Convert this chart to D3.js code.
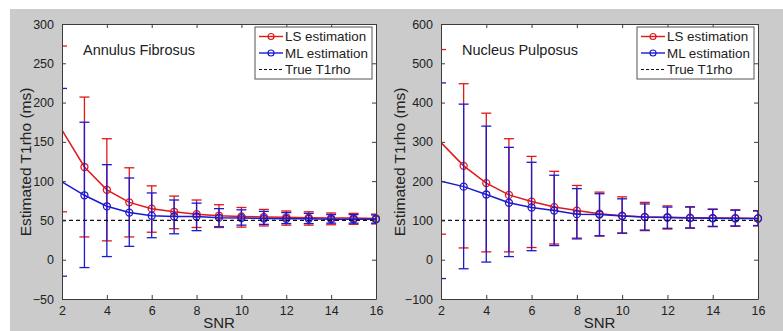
<!DOCTYPE html>
<html>
<head>
<meta charset="utf-8">
<script src="https://cdn.jsdelivr.net/npm/d3@7"></script>
<style>
  body { margin: 0; background: #fff; }
  text { font-family: "Liberation Sans", Arial, sans-serif; fill: #222; }
</style>
</head>
<body>
<div id="mainDiv"></div>
<script>
// SNR values on the x axis
const snr = [2, 3, 4, 5, 6, 7, 8, 9, 10, 11, 12, 13, 14, 15, 16];

// Annulus Fibrosus (true T1rho = 50 ms)
const afTrue = 50;
const afLsMean = [165, 118, 89, 73, 65, 61, 58, 56, 55, 54.5, 54, 53.5, 53, 53, 52.5];
const afLsLow = [61, 29, 24, 29, 35, 39.5, 41, 41, 41.5, 43, 44, 44, 44.5, 45, 45.5];
const afLsHigh = [272, 207, 154, 117, 94, 81, 76, 70, 66.5, 64, 62, 61, 59.5, 59, 58];
const afMlMean = [99, 82, 68, 60, 56, 55, 55, 53.5, 53, 52.5, 52, 52, 51.5, 51.5, 51.5];
const afMlLow = [-21, -10, 4, 17, 28, 33, 37, 42, 44, 45, 46, 46, 46.5, 46.5, 46.5];
const afMlHigh = [218, 175, 121, 104, 85, 76, 72, 65, 63.5, 61.5, 60, 59, 57.5, 57.5, 57];

// Nucleus Pulposus (true T1rho = 100 ms)
const npTrue = 100;
const npLsMean = [298, 239, 195, 165, 148, 134, 125, 117, 112, 109, 108, 107, 106, 106, 105];
const npLsLow = [65, 30, 20, 20, 31, 40, 55, 60, 67, 74, 78, 80, 84, 85, 86];
const npLsHigh = [535, 448, 373, 308, 263, 225, 189, 172, 160, 146, 137, 135, 129, 127, 125];
const npMlMean = [200, 186, 166, 145, 133, 125, 116, 115, 111, 108.5, 107.5, 106, 105.5, 105, 105];
const npMlLow = [-48, -23, -6, 8, 23, 36, 53, 61, 68, 75.5, 80, 81, 85, 86, 87];
const npMlHigh = [450, 396, 340, 286, 248, 215, 181, 168, 155, 142, 134, 134, 128, 126, 124];

const xTicks = [2, 4, 6, 8, 10, 12, 14, 16];
const legendLabels = ["LS estimation", "ML estimation", "True T1rho"];

const colors = { ls: "#e01818", ml: "#1a1ad0", axis: "#3c3c3c" };

const svg = d3.select("#mainDiv")
  .append("svg")
  .attr("width", 783)
  .attr("height", 331);

svg.append("rect")
  .attr("x", 10).attr("y", 9)
  .attr("width", 773).attr("height", 322)
  .attr("fill", "#cbcbcb");

drawPanel({
  id: "af",
  title: "Annulus Fibrosus",
  left: 62, right: 376, top: 24, bottom: 299,
  yDomain: [-50, 300], yTicks: d3.range(-50, 301, 50),
  trueValue: afTrue,
  ls: { mean: afLsMean, low: afLsLow, high: afLsHigh },
  ml: { mean: afMlMean, low: afMlLow, high: afMlHigh },
  legendX: 255, yLabelX: 31,
});

drawPanel({
  id: "np",
  title: "Nucleus Pulposus",
  left: 441, right: 758, top: 24, bottom: 299,
  yDomain: [-100, 600], yTicks: d3.range(-100, 601, 100),
  trueValue: npTrue,
  ls: { mean: npLsMean, low: npLsLow, high: npLsHigh },
  ml: { mean: npMlMean, low: npMlLow, high: npMlHigh },
  legendX: 637, yLabelX: 405,
});

function drawPanel(p) {
  let x = d3.scaleLinear().domain([2, 16]).range([p.left, p.right]);
  let y = d3.scaleLinear().domain(p.yDomain).range([p.bottom, p.top]);

  const g = svg.append("g");

  g.append("rect")
    .attr("x", p.left).attr("y", p.top)
    .attr("width", p.right - p.left).attr("height", p.bottom - p.top)
    .attr("fill", "#fff");

  g.append("clipPath").attr("id", "clip-" + p.id)
    .append("rect")
    .attr("x", p.left).attr("y", p.top)
    .attr("width", p.right - p.left).attr("height", p.bottom - p.top);

  // series: LS first, ML drawn on top
  [["ls", colors.ls], ["ml", colors.ml]].forEach(([key, color]) => {
    const s = p[key];
    const pts = snr.map((v, i) => ({ x: v, mean: s.mean[i], low: s.low[i], high: s.high[i] }));

    const bars = g.append("g")
      .attr("stroke", color)
      .attr("stroke-width", 1.3)
      .attr("clip-path", `url(#clip-${p.id})`);

    bars.selectAll("line.v").data(pts).join("line")
      .attr("class", "v")
      .attr("x1", d => x(d.x)).attr("x2", d => x(d.x))
      .attr("y1", d => y(d.low)).attr("y2", d => y(d.high));

    ["low", "high"].forEach(end => {
      bars.selectAll("line." + end).data(pts).join("line")
        .attr("class", end)
        .attr("x1", d => x(d.x) - 5).attr("x2", d => x(d.x) + 5)
        .attr("y1", d => y(d[end])).attr("y2", d => y(d[end]));
    });

    g.append("path")
      .datum(pts)
      .attr("fill", "none")
      .attr("stroke", color)
      .attr("stroke-width", 1.5)
      .attr("clip-path", `url(#clip-${p.id})`)
      .attr("d", d3.line().x(d => x(d.x)).y(d => y(d.mean)));

    g.append("g").selectAll("circle")
      .data(pts.filter(d => d.x > 2))
      .join("circle")
      .attr("cx", d => x(d.x))
      .attr("cy", d => y(d.mean))
      .attr("r", 3.5)
      .attr("fill", "none")
      .attr("stroke", color)
      .attr("stroke-width", 1.3);
  });

  // true value
  g.append("line")
    .attr("x1", p.left).attr("x2", p.right)
    .attr("y1", y(p.trueValue)).attr("y2", y(p.trueValue))
    .attr("stroke", "#111")
    .attr("stroke-width", 1.2)
    .attr("stroke-dasharray", "4,3");

  // axes (box with inward ticks)
  const axisStyle = a => a
    .call(s => s.select(".domain").attr("stroke", colors.axis))
    .call(s => s.selectAll(".tick line").attr("stroke", colors.axis))
    .call(s => s.selectAll(".tick text")
      .attr("font-size", 12.5)
      .attr("fill", "#222")
      .attr("font-family", "'Liberation Sans', Arial, sans-serif"));

  g.append("g")
    .attr("transform", `translate(0,${p.bottom})`)
    .call(d3.axisBottom(x).tickValues(xTicks).tickSizeInner(-4).tickSizeOuter(0).tickPadding(7))
    .call(axisStyle);

  g.append("g")
    .attr("transform", `translate(0,${p.top})`)
    .call(d3.axisTop(x).tickValues(xTicks).tickSizeInner(-4).tickSizeOuter(0).tickFormat(""))
    .call(axisStyle);

  g.append("g")
    .attr("transform", `translate(${p.left},0)`)
    .call(d3.axisLeft(y).tickValues(p.yTicks).tickSizeInner(-4).tickSizeOuter(0).tickPadding(8))
    .call(axisStyle);

  g.append("g")
    .attr("transform", `translate(${p.right},0)`)
    .call(d3.axisRight(y).tickValues(p.yTicks).tickSizeInner(-4).tickSizeOuter(0).tickFormat(""))
    .call(axisStyle);

  // title inside plot
  g.append("text")
    .attr("x", p.left + 21)
    .attr("y", 55)
    .attr("font-size", 14.5)
    .attr("fill", "#111")
    .text(p.title);

  // axis labels
  g.append("text")
    .attr("x", (p.left + p.right) / 2)
    .attr("y", 328)
    .attr("text-anchor", "middle")
    .attr("font-size", 15)
    .text("SNR");

  g.append("text")
    .attr("transform", `translate(${p.yLabelX},162) rotate(-90)`)
    .attr("text-anchor", "middle")
    .attr("font-size", 15.5)
    .text("Estimated T1rho (ms)");

  // legend
  const lg = g.append("g").attr("transform", `translate(${p.legendX},27)`);
  lg.append("rect")
    .attr("width", 117).attr("height", 52)
    .attr("fill", "#fff")
    .attr("stroke", "#555")
    .attr("stroke-width", 1);

  const legendItems = [
    { label: legendLabels[0], color: colors.ls, marker: true },
    { label: legendLabels[1], color: colors.ml, marker: true },
    { label: legendLabels[2], color: "#111", marker: false },
  ];

  legendItems.forEach((item, i) => {
    const cy = 9.5 + i * 16.5;
    lg.append("line")
      .attr("x1", 4).attr("x2", 28)
      .attr("y1", cy).attr("y2", cy)
      .attr("stroke", item.color)
      .attr("stroke-width", item.marker ? 1.4 : 1.1)
      .attr("stroke-dasharray", item.marker ? null : "3,2");
    if (item.marker) {
      lg.append("circle")
        .attr("cx", 16).attr("cy", cy).attr("r", 3)
        .attr("fill", "none")
        .attr("stroke", item.color)
        .attr("stroke-width", 1.2);
    }
    lg.append("text")
      .attr("x", 30).attr("y", cy + 4.8)
      .attr("font-size", 13.4)
      .text(item.label);
  });
}
</script>
</body>
</html>
